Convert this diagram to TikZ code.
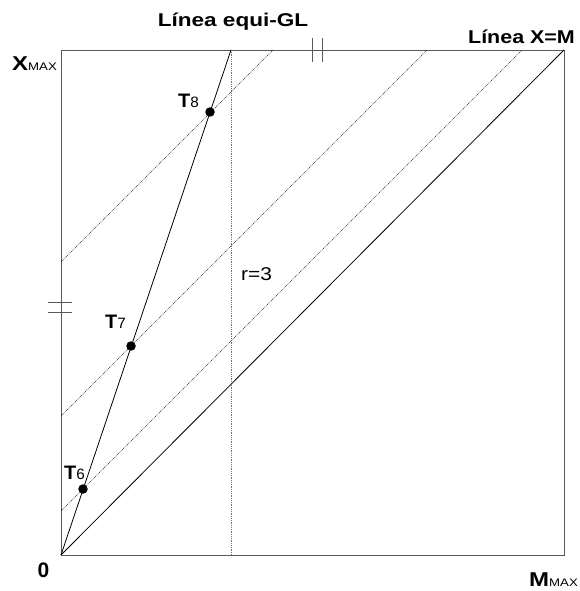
\documentclass[tikz,border=0pt]{standalone}
\usepackage{fontspec}
\setmainfont{Liberation Sans}
\begin{document}
\begin{tikzpicture}[x=1pt,y=-1pt,
  frame/.style={draw=black!65,line width=0.9pt},
  solidline/.style={draw=black,line width=0.8pt},
  dotline/.style={draw=black!85,line width=0.5pt,dash pattern=on 0.9pt off 0.9pt},
  vdot/.style={draw=black!55,line width=0.6pt,dash pattern=on 0.9pt off 0.9pt},
  tick/.style={draw=black!65,line width=0.9pt},
  pt/.style={circle,fill=black,inner sep=0pt,minimum size=9.5pt},
  lbl/.style={inner sep=0pt,anchor=base west},
]
\useasboundingbox (0,0) rectangle (579,591);
% corners
\coordinate (O) at (61,555);
\coordinate (TL) at (61,50);
\coordinate (TR) at (564,50);
\coordinate (BR) at (564,555);
\coordinate (G) at (231,50);
\coordinate (Gb) at (231,555);
% frame
\draw[frame] (TL) rectangle (BR);
% vertical r=3 line
\draw[vdot] (G) -- (Gb);
% parallel dotted lines
\coordinate (a1) at (61,511); \coordinate (b1) at (522,50);
\coordinate (a2) at (61,416); \coordinate (b2) at (427,50);
\coordinate (a3) at (61,262); \coordinate (b3) at (273,50);
\draw[dotline] (a1) -- (b1);
\draw[dotline] (a2) -- (b2);
\draw[dotline] (a3) -- (b3);
% diagonal X=M and equi-GL line
\draw[solidline] (O) -- (TR);
\draw[solidline] (O) -- (G);
% points
\node[pt] (t6) at (83,489) {};
\node[pt] (t7) at (131,346) {};
\node[pt] (t8) at (210,112) {};
% ticks
\coordinate (u1) at (312,38); \coordinate (u2) at (312,62);
\coordinate (u3) at (322,38); \coordinate (u4) at (322,62);
\draw[tick] (u1) -- (u2);
\draw[tick] (u3) -- (u4);
\coordinate (l1) at (48,302); \coordinate (l2) at (72,302);
\coordinate (l3) at (48,312); \coordinate (l4) at (72,312);
\draw[tick] (l1) -- (l2);
\draw[tick] (l3) -- (l4);
% labels
\node[inner sep=0pt,anchor=base,xscale=1.22] (lgl) at (233,27)
  {\fontsize{18.5}{20}\selectfont\bfseries Línea equi-GL};
\node[inner sep=0pt,anchor=base,xscale=1.16] (lxm) at (521.5,44)
  {\fontsize{18.5}{20}\selectfont\bfseries Línea X=M};
\node[lbl,xscale=1.2] (xmax) at (12,71)
  {\fontsize{20}{22}\selectfont\bfseries X\mdseries\fontsize{11}{13}\selectfont MAX};
\node[lbl,xscale=1.2] (mmax) at (529,586)
  {\fontsize{20}{22}\selectfont\bfseries M\mdseries\fontsize{11}{13}\selectfont MAX};
\node[inner sep=0pt,anchor=base] (zero) at (43.5,577.5)
  {\fontsize{21}{23}\selectfont\bfseries 0};
\node[lbl,xscale=1.02] (lt8) at (178,107)
  {\fontsize{19.5}{21}\selectfont\bfseries T\mdseries\fontsize{15}{17}\selectfont 8};
\node[lbl,xscale=1.02] (lt7) at (105,328)
  {\fontsize{19.5}{21}\selectfont\bfseries T\mdseries\fontsize{15}{17}\selectfont 7};
\node[lbl,xscale=1.02] (lt6) at (64,479.5)
  {\fontsize{19.5}{21}\selectfont\bfseries T\mdseries\fontsize{15}{17}\selectfont 6};
\node[lbl,xscale=1.13] (r3) at (241,280)
  {\fontsize{18.5}{20}\selectfont r=3};
\end{tikzpicture}
\end{document}
